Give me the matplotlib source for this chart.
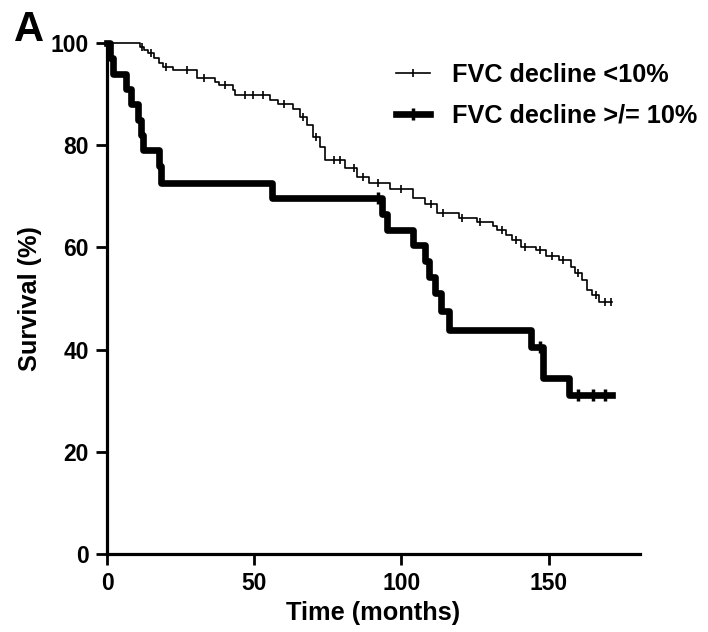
import numpy as np
import matplotlib
matplotlib.use("Agg")
import matplotlib.pyplot as plt
from matplotlib.lines import Line2D

plt.rcParams['font.family'] = ['Liberation Sans', 'DejaVu Sans']
plt.rcParams['font.weight'] = 'bold'

# Kaplan-Meier steps (months, survival %)
t_thin = [0, 11.2, 12.5, 14, 16, 17.6, 19, 22.4, 30.5, 36.6, 38, 42.7, 43.5, 55.2, 58,
          63, 65.4, 67.8, 70, 72.2, 74, 80.7, 85, 89, 96, 104, 108, 112, 119.7, 125.8,
          131, 132.5, 135.6, 137.6, 140.7, 145.8, 149, 153.6, 157.6, 159, 161.4, 163,
          164.7, 167, 171.5]
s_thin = [100, 99.3, 98.6, 98.0, 97.0, 96.0, 95.3, 94.7, 93.1, 92.4, 91.8, 90.8, 89.8, 88.8, 88.0,
          87.0, 85.5, 84.0, 81.6, 79.6, 77.1, 75.6, 73.8, 72.6, 71.4, 69.6, 68.4, 66.8, 65.8, 65.0,
          64.2, 63.4, 62.4, 61.4, 60.1, 59.4, 58.3, 57.5, 56.2, 55.0, 53.6, 51.7,
          50.7, 49.3, 49.3]
cens_thin = [12, 15, 20, 27, 33, 40, 47, 49.5, 53, 60, 66.5, 71, 77, 79, 84, 87, 92, 100,
             110, 114, 120.5, 126.5, 134, 139, 142, 147, 151, 155, 160, 166, 169, 171]

t_thick = [0, 1, 2, 6.5, 8, 10.5, 11.5, 12.2, 17.5, 18.2, 56, 93.5, 95, 104, 108, 109.5,
           111.5, 113.5, 116, 144, 148, 157, 171.5]
s_thick = [100, 97, 94, 91, 88, 85, 82, 79, 76, 72.7, 69.7, 66.5, 63.5, 60.5, 57.3, 54.2,
           51.0, 47.6, 43.9, 40.5, 34.4, 31.1, 31.1]
cens_thick = [92, 147, 160, 165, 169]

labels = ['FVC decline <10%', 'FVC decline >/= 10%']


def at(times, surv, c):
    idx = np.searchsorted(times, c, side='right') - 1
    return np.asarray(surv)[idx]


fig = plt.figure(figsize=(7.08, 6.32), dpi=100)
ax = fig.add_axes([107 / 708, 1 - 554 / 632, (640 - 107) / 708, (554 - 43) / 632])

ax.step(t_thin, s_thin, where='post', color='k', lw=1.2, clip_on=False)
ax.plot(cens_thin, at(t_thin, s_thin, cens_thin), ls='none', marker='|', ms=6,
        mew=1.2, color='k', clip_on=False)
ax.step(t_thick, s_thick, where='post', color='k', lw=4.8, clip_on=False)
ax.plot(cens_thick, at(t_thick, s_thick, cens_thick), ls='none', marker='|', ms=9,
        mew=2.5, color='k', clip_on=False)

ax.set_xlim(0, 181)
ax.set_ylim(0, 100)
ax.set_xticks([0, 50, 100, 150])
ax.set_yticks([0, 20, 40, 60, 80, 100])
for s in ['top', 'right']:
    ax.spines[s].set_visible(False)
for s in ['left', 'bottom']:
    ax.spines[s].set_linewidth(2.3)
ax.tick_params(width=2, length=8, labelsize=16.5, pad=5)
ax.set_xlabel('Time (months)', fontsize=18.3, fontweight='bold', labelpad=4)
ax.set_ylabel('Survival (%)', fontsize=18.3, fontweight='bold', labelpad=6)

handles = [Line2D([], [], color='k', lw=1.2, marker='|', ms=6, mew=1.2),
           Line2D([], [], color='k', lw=4.8, marker='|', ms=9, mew=2.5)]
fig.legend(handles, labels, loc='upper left', bbox_to_anchor=(396 / 708, 1 - 63 / 632),
           frameon=False, fontsize=18.2, numpoints=1, handlelength=1.35,
           handletextpad=0.85, labelspacing=0.66, borderpad=0, borderaxespad=0)

fig.text(14 / 708, 1 - 41 / 632, 'A', fontsize=30, fontweight='bold')

fig.savefig('out.png', dpi=100)
